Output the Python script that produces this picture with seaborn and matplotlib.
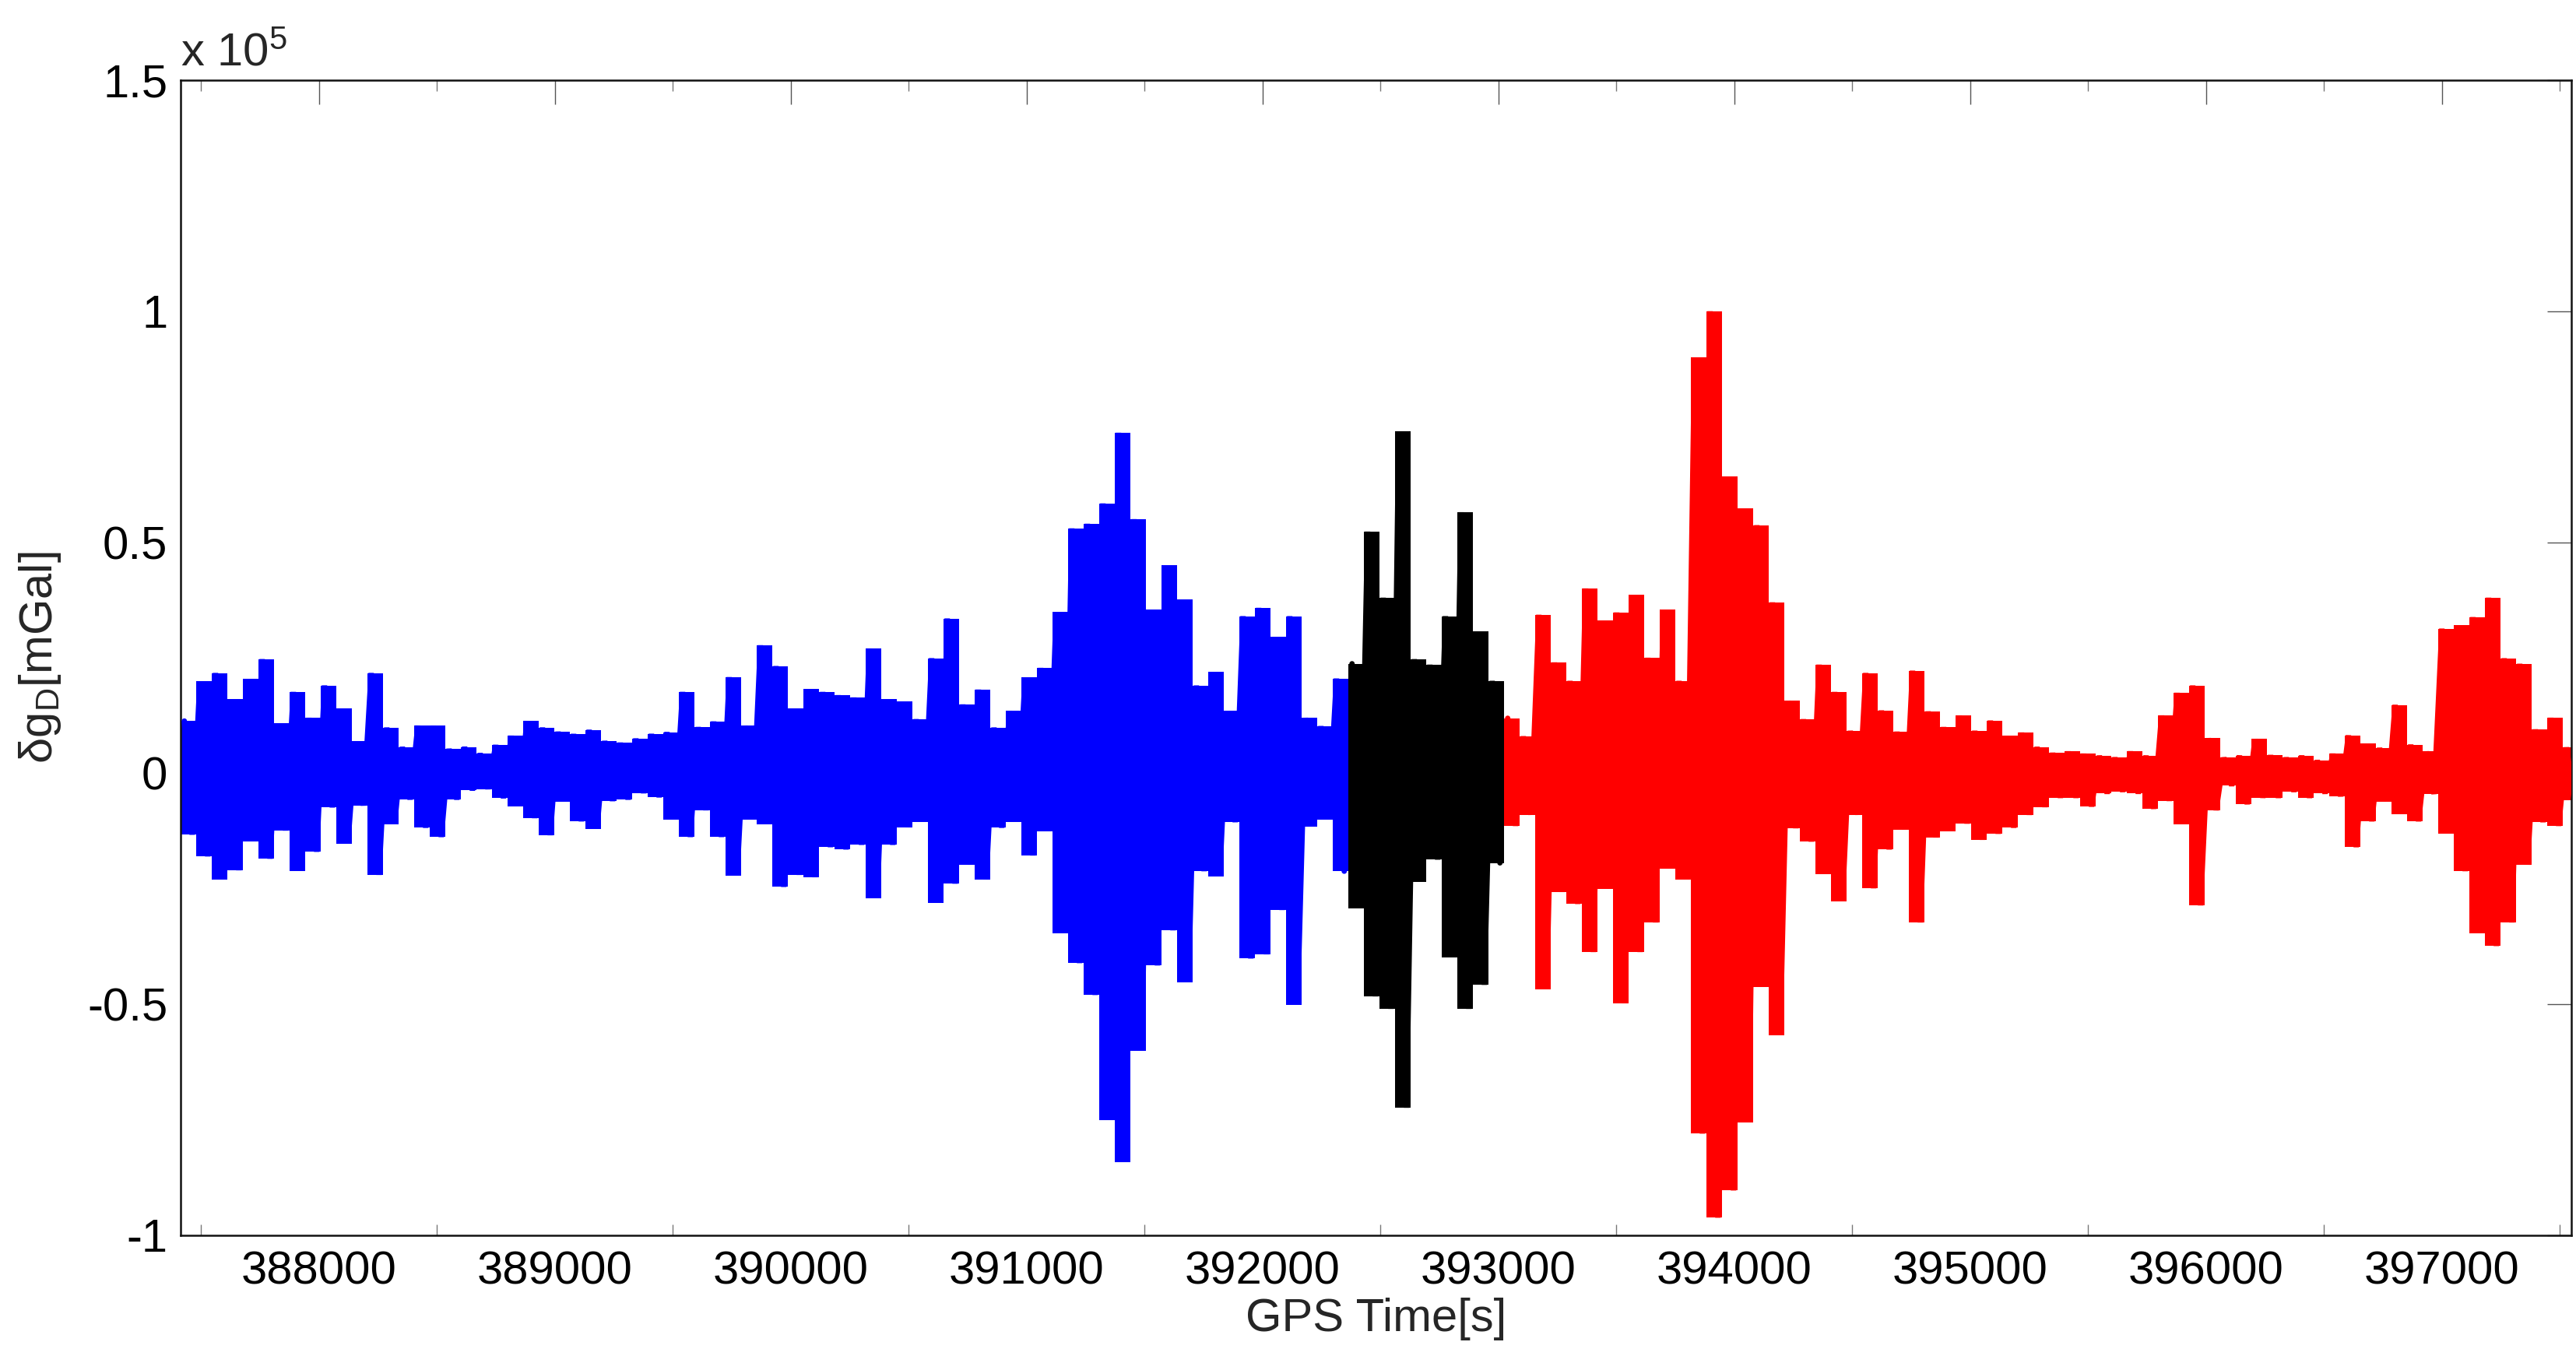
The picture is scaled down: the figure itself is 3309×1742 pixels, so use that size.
import numpy as np
import pandas as pd
import matplotlib
matplotlib.use("Agg")
import matplotlib.pyplot as plt
import seaborn as sns
from matplotlib.ticker import FixedLocator, MultipleLocator

# ---------------- data ----------------
T0 = 387429.0      # GPS time of first envelope sample [s]
DT = 66.0          # spacing of envelope samples [s]
# local maxima / minima of delta g_D, in units of 1e5 mGal
upper = [0.113, 0.199, 0.217, 0.16, 0.204, 0.247, 0.108, 0.176, 0.12, 0.19,
         0.14, 0.069, 0.217, 0.099, 0.057, 0.103, 0.103, 0.053, 0.057, 0.043,
         0.061, 0.081, 0.113, 0.099, 0.09, 0.085, 0.094, 0.07, 0.066, 0.075,
         0.085, 0.089, 0.176, 0.1, 0.112, 0.208, 0.103, 0.277, 0.232, 0.14,
         0.182, 0.176, 0.169, 0.164, 0.27, 0.16, 0.155, 0.117, 0.249, 0.335,
         0.149, 0.181, 0.099, 0.135, 0.207, 0.228, 0.349, 0.53, 0.54, 0.584,
         0.737, 0.55, 0.354, 0.45, 0.376, 0.19, 0.219, 0.135, 0.34, 0.358,
         0.295, 0.34, 0.12, 0.102, 0.205, 0.237, 0.523, 0.38, 0.74, 0.247,
         0.235, 0.34, 0.565, 0.307, 0.2, 0.119, 0.08, 0.343, 0.24, 0.2,
         0.4, 0.33, 0.348, 0.386, 0.25, 0.354, 0.2, 0.9, 1.0, 0.642,
         0.573, 0.537, 0.37, 0.157, 0.117, 0.235, 0.176, 0.092, 0.217, 0.136,
         0.09, 0.222, 0.134, 0.1, 0.125, 0.092, 0.114, 0.081, 0.088, 0.057,
         0.044, 0.047, 0.042, 0.038, 0.034, 0.047, 0.038, 0.125, 0.174, 0.19,
         0.076, 0.034, 0.038, 0.074, 0.039, 0.034, 0.038, 0.028, 0.042, 0.082,
         0.064, 0.055, 0.148, 0.062, 0.047, 0.313, 0.32, 0.338, 0.38, 0.249,
         0.237, 0.095, 0.12, 0.056]
lower = [-0.133, -0.18, -0.23, -0.21, -0.147, -0.185, -0.124, -0.211, -0.17, -0.074,
         -0.152, -0.07, -0.22, -0.11, -0.057, -0.118, -0.138, -0.057, -0.037, -0.034,
         -0.054, -0.071, -0.097, -0.134, -0.061, -0.104, -0.12, -0.06, -0.057, -0.043,
         -0.052, -0.1, -0.138, -0.08, -0.138, -0.221, -0.1, -0.11, -0.246, -0.22,
         -0.225, -0.16, -0.165, -0.155, -0.27, -0.155, -0.117, -0.105, -0.28, -0.239,
         -0.198, -0.23, -0.118, -0.105, -0.178, -0.125, -0.346, -0.411, -0.48, -0.75,
         -0.841, -0.6, -0.416, -0.34, -0.452, -0.212, -0.223, -0.106, -0.401, -0.392,
         -0.296, -0.501, -0.115, -0.1, -0.212, -0.292, -0.483, -0.51, -0.724, -0.235,
         -0.187, -0.398, -0.51, -0.458, -0.194, -0.114, -0.09, -0.467, -0.257, -0.283,
         -0.387, -0.25, -0.498, -0.387, -0.323, -0.206, -0.23, -0.78, -0.962, -0.903,
         -0.755, -0.462, -0.567, -0.119, -0.148, -0.218, -0.277, -0.09, -0.249, -0.165,
         -0.122, -0.323, -0.139, -0.125, -0.109, -0.144, -0.131, -0.118, -0.09, -0.073,
         -0.053, -0.053, -0.072, -0.044, -0.04, -0.044, -0.077, -0.06, -0.11, -0.286,
         -0.08, -0.027, -0.067, -0.053, -0.053, -0.04, -0.053, -0.044, -0.05, -0.16,
         -0.104, -0.061, -0.088, -0.104, -0.045, -0.13, -0.212, -0.346, -0.374, -0.323,
         -0.198, -0.106, -0.114, -0.058]
SCALE = 1e5
segment_start = [0, 75, 85]          # first sample of blue / black / red part
segment_colors = ["#0000ff", "#000000", "#ff0000"]

x_limits = (387413, 397548)
y_limits = (-1e5, 1.5e5)
x_ticks = [388000, 389000, 390000, 391000, 392000, 393000, 394000, 395000, 396000, 397000]
y_ticks = [-1e5, -0.5e5, 0, 0.5e5, 1e5, 1.5e5]
y_tick_labels = ["-1", "-0.5", "0", "0.5", "1", "1.5"]

# ---------------- build long table ----------------
rows = []
n = len(upper)
bounds = segment_start + [n]
for s in range(3):
    for k in range(bounds[s], bounds[s + 1]):
        t_up = T0 + DT * k
        rows.append((t_up, upper[k] * SCALE, s, 2 * k))
        rows.append((t_up + DT / 2, lower[k] * SCALE, s, 2 * k + 1))
df = pd.DataFrame(rows, columns=["t", "g", "seg", "order"])

# ---------------- plot ----------------
sns.set_theme(style="white")
plt.rcParams["font.family"] = ["Liberation Sans", "DejaVu Sans"]
plt.rcParams["mathtext.fontset"] = "custom"
plt.rcParams["mathtext.rm"] = "Liberation Sans"
plt.rcParams["mathtext.it"] = "Liberation Sans"

fig = plt.figure(figsize=(33.09, 17.42), dpi=100)
ax = fig.add_axes([0.0701, 0.0890, 0.9281, 0.8519])

up_arr = np.array(upper) * SCALE
lo_arr = np.array(lower) * SCALE
for s in range(3):
    seg = df[df.seg == s].sort_values("order")
    # dense oscillation rendered as a filled band between successive extremes
    ks = np.arange(bounds[s], bounds[s + 1])
    edges = T0 - DT / 4 + DT * np.arange(bounds[s], bounds[s + 1] + 1)
    lo_e = np.append(lo_arr[ks], lo_arr[ks][-1])
    up_e = np.append(up_arr[ks], up_arr[ks][-1])
    ax.fill_between(edges, lo_e, up_e, step="post",
                    color=segment_colors[s], linewidth=0, zorder=2)
    sns.lineplot(data=seg, x="t", y="g", sort=False, estimator=None,
                 color=segment_colors[s], linewidth=5, solid_joinstyle="bevel",
                 ax=ax, legend=False, zorder=3)

ax.set_xlim(*x_limits)
ax.set_ylim(*y_limits)
ax.xaxis.set_major_locator(FixedLocator(x_ticks))
ax.xaxis.set_minor_locator(MultipleLocator(500))
ax.set_xticklabels([str(v) for v in x_ticks])
ax.yaxis.set_major_locator(FixedLocator(y_ticks))
ax.set_yticklabels(y_tick_labels)

ax.tick_params(axis="both", which="major", direction="in", length=22, width=1.0,
               color="#555555", labelsize=43, labelcolor="black",
               top=True, right=True, pad=12)
ax.tick_params(axis="x", which="minor", direction="in", length=10, width=1.0,
               color="#777777", top=True, bottom=True)
ax.tick_params(axis="x", which="major", pad=14)

for sp in ax.spines.values():
    sp.set_visible(True)
    sp.set_color("#111111")
    sp.set_linewidth(1.8)

ax.set_xlabel("GPS Time[s]", fontsize=43, labelpad=4)
ax.set_ylabel(r"$\mathregular{\delta g_D}$[mGal]", fontsize=43, labelpad=22)

ax.text(0.0, 1.012, r"x 10$^{\mathregular{5}}$", transform=ax.transAxes,
        ha="left", va="baseline", fontsize=43)

fig.savefig("out.png", dpi=100, facecolor="white")
